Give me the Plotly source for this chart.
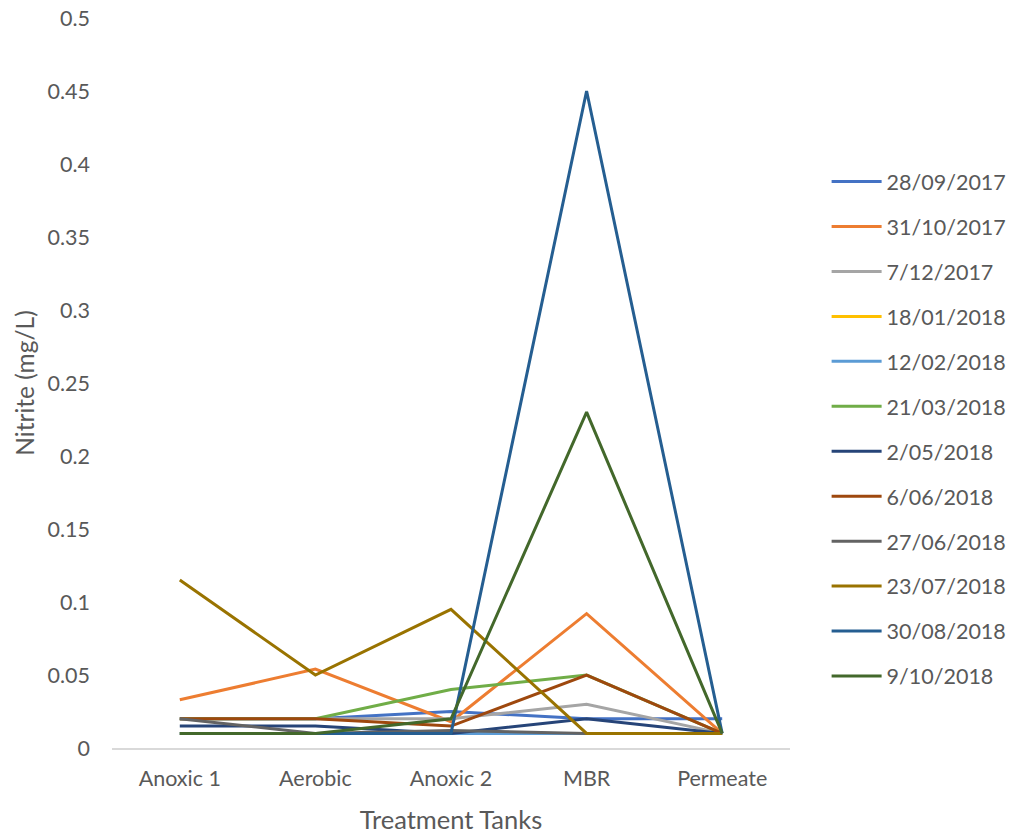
import plotly.graph_objects as go

tanks = ["Anoxic 1", "Aerobic", "Anoxic 2", "MBR", "Permeate"]
dates = ["28/09/2017", "31/10/2017", "7/12/2017", "18/01/2018", "12/02/2018", "21/03/2018",
         "2/05/2018", "6/06/2018", "27/06/2018", "23/07/2018", "30/08/2018", "9/10/2018"]
s_28_09_2017 = [0.02, 0.02, 0.025, 0.02, 0.02]
s_31_10_2017 = [0.033, 0.054, 0.018, 0.092, 0.01]
s_7_12_2017 = [0.02, 0.02, 0.02, 0.03, 0.01]
s_18_01_2018 = [0.01, 0.01, 0.01, 0.01, 0.01]
s_12_02_2018 = [0.01, 0.01, 0.01, 0.01, 0.01]
s_21_03_2018 = [0.02, 0.02, 0.04, 0.05, 0.01]
s_2_05_2018 = [0.015, 0.015, 0.01, 0.02, 0.01]
s_6_06_2018 = [0.02, 0.02, 0.015, 0.05, 0.01]
s_27_06_2018 = [0.02, 0.01, 0.012, 0.01, 0.01]
s_23_07_2018 = [0.115, 0.05, 0.095, 0.01, 0.01]
s_30_08_2018 = [0.01, 0.01, 0.01, 0.45, 0.01]
s_9_10_2018 = [0.01, 0.01, 0.02, 0.23, 0.01]
series = [s_28_09_2017, s_31_10_2017, s_7_12_2017, s_18_01_2018, s_12_02_2018, s_21_03_2018,
          s_2_05_2018, s_6_06_2018, s_27_06_2018, s_23_07_2018, s_30_08_2018, s_9_10_2018]
colors = ["#4472C4", "#ED7D31", "#A5A5A5", "#FFC000", "#5B9BD5", "#70AD47",
          "#264478", "#9E480E", "#636363", "#997300", "#255E91", "#43682B"]
yticks = [0, 0.05, 0.1, 0.15, 0.2, 0.25, 0.3, 0.35, 0.4, 0.45, 0.5]
yticklabels = ["0", "0.05", "0.1", "0.15", "0.2", "0.25", "0.3", "0.35", "0.4", "0.45", "0.5"]

FAM = "Lato, Open Sans, sans-serif"
GREY = "#595959"

fig = go.Figure()
for i, (d, vals, c) in enumerate(zip(dates, series, colors)):
    fig.add_trace(go.Scatter(x=tanks, y=vals, mode="lines", name=d,
                             line=dict(color=c, width=3), legendgroup=str(i)))

fig.update_layout(
    width=1013, height=834,
    margin=dict(l=112, r=223, t=18, b=86, autoexpand=False),
    paper_bgcolor="white", plot_bgcolor="white",
    font=dict(family=FAM, color=GREY, size=21),
    showlegend=True,
    legend=dict(x=1.054, y=0.804, xanchor="left", yanchor="top",
                tracegroupgap=14, font=dict(family=FAM, size=21.5, color=GREY),
                itemwidth=50),
    xaxis=dict(type="category", range=[-0.5, 4.5], showgrid=False, automargin=False,
               showline=True, linecolor="#D9D9D9", linewidth=2,
               ticks="", ticklabelstandoff=10,
               title=dict(text="Treatment Tanks", font=dict(family=FAM, size=25.5, color=GREY), standoff=22),
               tickfont=dict(family=FAM, size=21.5, color=GREY)),
    yaxis=dict(range=[0, 0.5], tickvals=yticks, ticktext=yticklabels, showgrid=False, automargin=False,
               zeroline=False, showline=False, ticks="", ticklabelstandoff=21,
               ticklabeloverflow="allow",
               title=dict(text="Nitrite (mg/L)", font=dict(family=FAM, size=24.5, color=GREY), standoff=5),
               tickfont=dict(family=FAM, size=21.5, color=GREY)),
)
fig.write_html("out.html", config={"displayModeBar": False},
               post_script="document.body.style.margin='0';")
